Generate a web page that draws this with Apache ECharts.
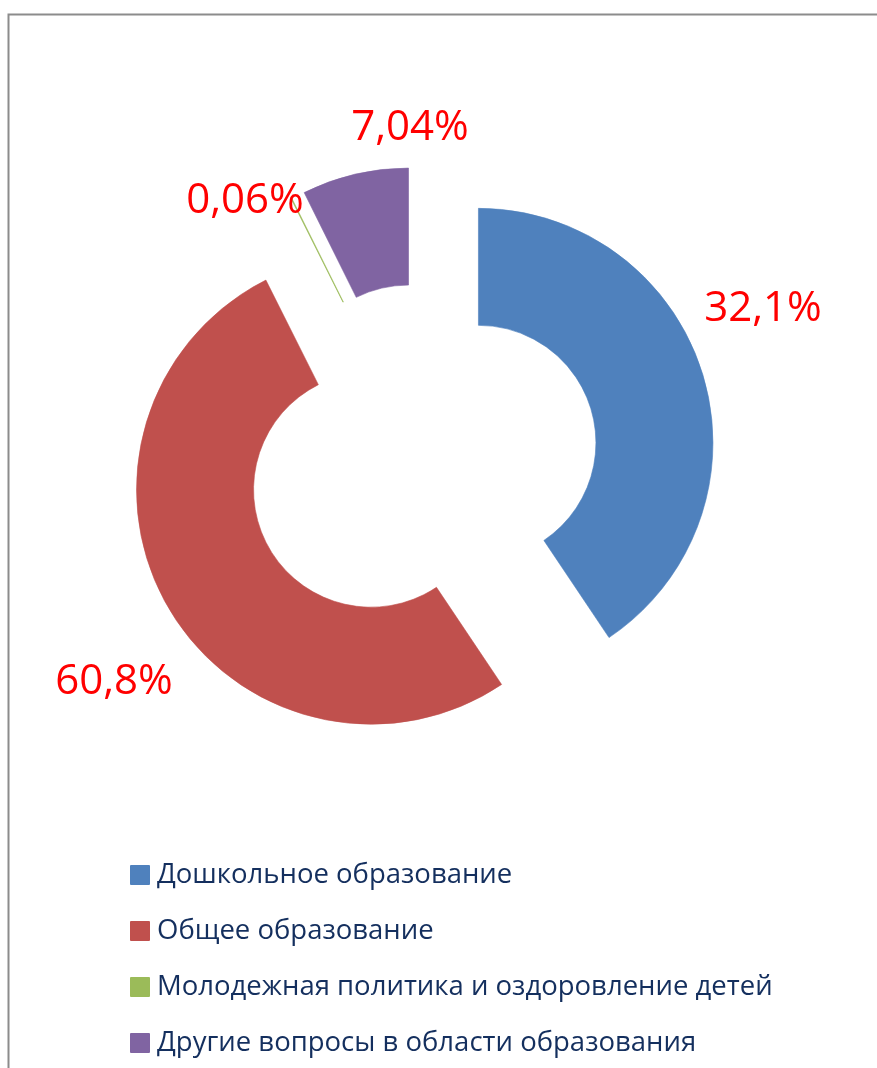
<!DOCTYPE html>
<html>
<head>
<meta charset="utf-8">
<script src="https://cdn.jsdelivr.net/npm/echarts@6/dist/echarts.min.js"></script>
<style>
  html, body { margin: 0; padding: 0; background: #fff; }
  #chart { width: 877px; height: 1068px; }
</style>
</head>
<body>
<div id="chart"></div>
<script>
// categories and slice sizes (angles)
const categories = [
  'Дошкольное образование',
  'Общее образование',
  'Молодежная политика и оздоровление детей',
  'Другие вопросы в области образования'
];
const shares = [40.6, 52.0, 0.06, 7.34];
// the labels printed on the chart
const labelTexts = ['32,1%', '60,8%', '0,06%', '7,04%'];

const colors = ['#4F81BD', '#C0504D', '#9BBB59', '#8064A2'];
// hand placed label spots, as in the original
const labelSpots = [[763, 309], [114, 682], [245, 201], [410, 128]];

const myChart = echarts.init(document.getElementById('chart'), null, {renderer: 'canvas'});

const pieData = categories.map((name, i) => ({name: name, value: shares[i]}));

const option = {
  animation: false,
  color: colors,
  graphic: [
    {
      type: 'rect',
      silent: true,
      shape: {x: 8.5, y: 14.5, width: 900, height: 1100},
      style: {fill: 'none', stroke: '#8c8c8c', lineWidth: 2}
    }
  ],
  legend: {
    orient: 'vertical',
    left: 125,
    top: 856,
    itemWidth: 18,
    itemHeight: 18,
    itemGap: 28,
    icon: 'rect',
    selectedMode: false,
    textStyle: {
      fontFamily: 'Open Sans',
      fontSize: 27.5,
      color: '#142F5E',
      padding: [0, 0, 0, 3]
    },
    data: categories
  },
  series: [
    {
      // exploded doughnut
      type: 'pie',
      center: [422, 460],
      radius: [117.5, 234.5],
      startAngle: 90,
      clockwise: true,
      selectedMode: 'multiple',
      selectedOffset: 59,
      minAngle: 0,
      emphasis: {disabled: true},
      label: {show: false},
      labelLine: {show: false},
      data: pieData.map((d, i) => Object.assign({
        selected: true,
        itemStyle: {borderColor: colors[i], borderWidth: 0.6}
      }, d))
    },
    {
      // same slices, invisible, only to carry the labels
      type: 'pie',
      silent: true,
      center: [422, 460],
      radius: [117.5, 234.5],
      startAngle: 90,
      clockwise: true,
      avoidLabelOverlap: false,
      itemStyle: {color: 'rgba(0,0,0,0)', borderWidth: 0},
      emphasis: {disabled: true},
      label: {
        show: true,
        position: 'outside',
        color: '#FF0000',
        fontFamily: 'Open Sans',
        fontSize: 42,
        formatter: (p) => labelTexts[p.dataIndex]
      },
      labelLine: {show: false},
      labelLayout: (params) => {
        const spot = labelSpots[params.dataIndex];
        return {x: spot[0], y: spot[1], align: 'center', verticalAlign: 'middle'};
      },
      data: pieData
    }
  ]
};

myChart.setOption(option);
</script>
</body>
</html>
